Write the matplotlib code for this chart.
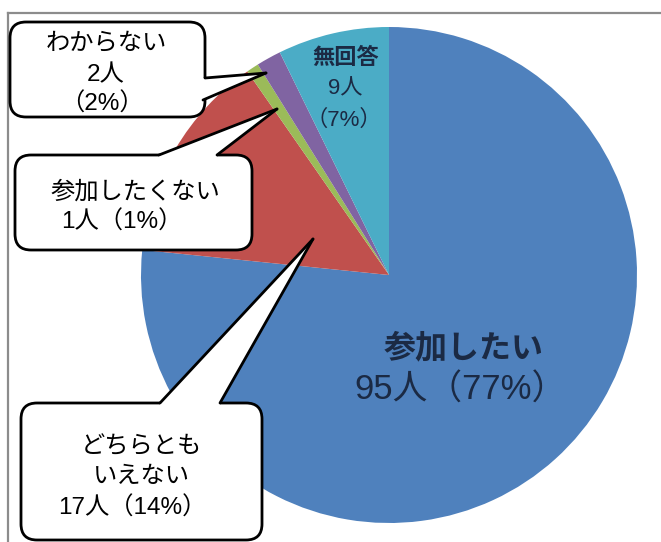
import matplotlib
matplotlib.use("Agg")
import matplotlib.pyplot as plt
from matplotlib.patches import FancyBboxPatch, Polygon
from matplotlib.lines import Line2D

plt.rcParams['font.family'] = ['Liberation Sans', 'Noto Sans CJK JP', 'DejaVu Sans']

# ---- data ----
categories = ["参加したい", "どちらともいえない", "参加したくない", "わからない", "無回答"]
counts = [95, 17, 1, 2, 9]
percents = [77, 14, 1, 2, 7]
colors = ["#4F81BD", "#C0504D", "#9BBB59", "#8064A2", "#4BACC6"]

W, H = 661, 542
fig = plt.figure(figsize=(W / 100, H / 100), dpi=100)
ax = fig.add_axes([0, 0, 1, 1])

# pie in pixel coordinates (y inverted): start at top, clockwise on screen
cx, cy, R = 389, 275, 248
ax.pie(counts, colors=colors, startangle=-90, counterclock=True,
       center=(cx, cy), radius=R, wedgeprops=dict(linewidth=0))
ax.set_xlim(0, W)
ax.set_ylim(H, 0)
ax.set_aspect('equal')
ax.axis('off')

# frame lines
ax.add_line(Line2D([8, W], [12.5, 12.5], color="#8c8c8c", lw=1.6, zorder=1))
ax.add_line(Line2D([8, 8], [12.5, H], color="#8c8c8c", lw=1.6, zorder=1))

txt_color = "#1b2a44"

# in-pie labels
ax.text(346, 58, "無回答", ha="center", va="center", fontsize=16,
        fontweight="bold", color=txt_color, zorder=6)
ax.text(345, 89, f"{counts[4]}人", ha="center", va="center", fontsize=16,
        color=txt_color, zorder=6)
ax.text(344, 120, f"（{percents[4]}%）", ha="center", va="center", fontsize=16,
        color=txt_color, zorder=6)

ax.text(464, 349, categories[0], ha="center", va="center", fontsize=23,
        fontweight="bold", color=txt_color, zorder=6)
ax.text(460, 390, f"{counts[0]}人（{percents[0]}%）", ha="center", va="center",
        fontsize=25, color=txt_color, zorder=6)


def callout(x0, y0, x1, y1, base, tip, base_in):
    box = FancyBboxPatch((x0, y0), x1 - x0, y1 - y0,
                         boxstyle="round,pad=0,rounding_size=16",
                         facecolor="white", edgecolor="black", lw=2.0, zorder=7)
    ax.add_patch(box)
    poly = Polygon([base_in[0], base[0], tip, base[1], base_in[1]], closed=True,
                   facecolor="white", edgecolor="none", zorder=8)
    ax.add_patch(poly)
    ax.add_line(Line2D([base[0][0], tip[0]], [base[0][1], tip[1]],
                       color="black", lw=2.0, zorder=9, solid_capstyle="round"))
    ax.add_line(Line2D([base[1][0], tip[0]], [base[1][1], tip[1]],
                       color="black", lw=2.0, zorder=9, solid_capstyle="round"))


box_fs = 17.5
# わからない
callout(10, 22, 205, 117, base=[(205, 78), (203, 100)], tip=(266, 73),
        base_in=[(200, 78), (198, 100)])
ax.text(106, 43, categories[3], ha="center", va="center", fontsize=box_fs, zorder=10)
ax.text(106, 75, f"{counts[3]}人", ha="center", va="center", fontsize=box_fs, zorder=10)
ax.text(102, 104, f"（{percents[3]}%）", ha="center", va="center", fontsize=box_fs, zorder=10)

# 参加したくない
callout(15, 155, 252, 250, base=[(159, 155), (217, 155)], tip=(277, 109),
        base_in=[(159, 160), (217, 160)])
ax.text(135, 192, categories[2], ha="center", va="center", fontsize=box_fs, zorder=10)
ax.text(122, 222, f"{counts[2]}人（{percents[2]}%）", ha="center", va="center",
        fontsize=box_fs, zorder=10)

# どちらともいえない
callout(21, 403, 262, 540, base=[(160, 403), (220, 403)], tip=(313, 239),
        base_in=[(160, 408), (220, 408)])
ax.text(141, 447, "どちらとも", ha="center", va="center", fontsize=box_fs, zorder=10)
ax.text(141, 477, "いえない", ha="center", va="center", fontsize=box_fs, zorder=10)
ax.text(132, 508, f"{counts[1]}人（{percents[1]}%）", ha="center", va="center",
        fontsize=box_fs, zorder=10)

fig.savefig("out.png", dpi=100)
